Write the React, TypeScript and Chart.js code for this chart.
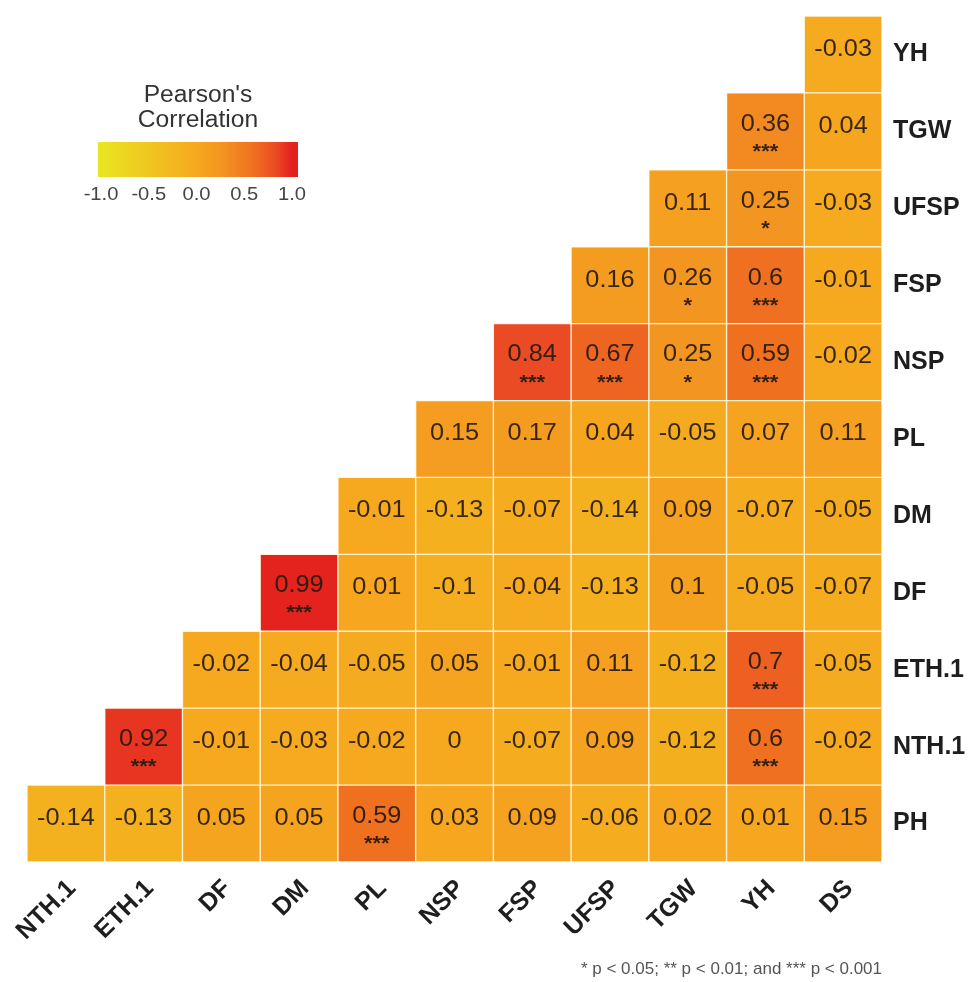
import React, { useEffect, useRef } from "react";
import { Chart, registerables } from "chart.js";

Chart.register(...registerables);

const columns = ["NTH.1", "ETH.1", "DF", "DM", "PL", "NSP", "FSP", "UFSP", "TGW", "YH", "DS"];
// rows from bottom (index 0) to top (index 10)
const rows = ["PH", "NTH.1", "ETH.1", "DF", "DM", "PL", "NSP", "FSP", "UFSP", "TGW", "YH"];

const valPH = [-0.14, -0.13, 0.05, 0.05, 0.59, 0.03, 0.09, -0.06, 0.02, 0.01, 0.15];
const valNTH = [null, 0.92, -0.01, -0.03, -0.02, 0, -0.07, 0.09, -0.12, 0.6, -0.02];
const valETH = [null, null, -0.02, -0.04, -0.05, 0.05, -0.01, 0.11, -0.12, 0.7, -0.05];
const valDF = [null, null, null, 0.99, 0.01, -0.1, -0.04, -0.13, 0.1, -0.05, -0.07];
const valDM = [null, null, null, null, -0.01, -0.13, -0.07, -0.14, 0.09, -0.07, -0.05];
const valPL = [null, null, null, null, null, 0.15, 0.17, 0.04, -0.05, 0.07, 0.11];
const valNSP = [null, null, null, null, null, null, 0.84, 0.67, 0.25, 0.59, -0.02];
const valFSP = [null, null, null, null, null, null, null, 0.16, 0.26, 0.6, -0.01];
const valUFSP = [null, null, null, null, null, null, null, null, 0.11, 0.25, -0.03];
const valTGW = [null, null, null, null, null, null, null, null, null, 0.36, 0.04];
const valYH = [null, null, null, null, null, null, null, null, null, null, -0.03];

const sigPH = ["", "", "", "", "***", "", "", "", "", "", ""];
const sigNTH = ["", "***", "", "", "", "", "", "", "", "***", ""];
const sigETH = ["", "", "", "", "", "", "", "", "", "***", ""];
const sigDF = ["", "", "", "***", "", "", "", "", "", "", ""];
const sigDM = ["", "", "", "", "", "", "", "", "", "", ""];
const sigPL = ["", "", "", "", "", "", "", "", "", "", ""];
const sigNSP = ["", "", "", "", "", "", "***", "***", "*", "***", ""];
const sigFSP = ["", "", "", "", "", "", "", "", "*", "***", ""];
const sigUFSP = ["", "", "", "", "", "", "", "", "", "*", ""];
const sigTGW = ["", "", "", "", "", "", "", "", "", "***", ""];
const sigYH = ["", "", "", "", "", "", "", "", "", "", ""];

const values = [valPH, valNTH, valETH, valDF, valDM, valPL, valNSP, valFSP, valUFSP, valTGW, valYH];
const sigs = [sigPH, sigNTH, sigETH, sigDF, sigDM, sigPL, sigNSP, sigFSP, sigUFSP, sigTGW, sigYH];

const legendTicks = [-1.0, -0.5, 0.0, 0.5, 1.0];

const colorStops: [number, number[]][] = [
  [-1, [233, 229, 32]],
  [0, [246, 168, 31]],
  [0.25, [243, 150, 33]],
  [0.6, [239, 112, 32]],
  [0.84, [234, 74, 36]],
  [1, [228, 32, 30]],
];

function colorFor(v: number): string {
  const x = Math.max(-1, Math.min(1, v));
  for (let i = 0; i < colorStops.length - 1; i++) {
    const [a, ca] = colorStops[i];
    const [b, cb] = colorStops[i + 1];
    if (x >= a && x <= b) {
      const t = (x - a) / (b - a);
      const c = ca.map((q, k) => Math.round(q + (cb[k] - q) * t));
      return `rgb(${c[0]},${c[1]},${c[2]})`;
    }
  }
  return "rgb(246,168,31)";
}

const FONT = "'Liberation Sans', Arial, sans-serif";

function stretchText(ctx: any, text: string, x: number, y: number, sx: number) {
  ctx.save();
  ctx.translate(x, y);
  ctx.scale(sx, 1);
  ctx.fillText(text, 0, 0);
  ctx.restore();
}

const overlayPlugin = {
  id: "overlay",
  afterDatasetsDraw(chart: any) {
    const ctx = chart.ctx;
    ctx.save();
    ctx.textAlign = "center";
    ctx.textBaseline = "middle";
    values.forEach((rowVals, i) => {
      const meta = chart.getDatasetMeta(i);
      rowVals.forEach((v, j) => {
        if (v === null) return;
        const el: any = meta.data[j];
        if (!el) return;
        const cx = el.x;
        const top = Math.min(el.y, el.base);
        const bot = Math.max(el.y, el.base);
        const cy = (top + bot) / 2;
        const s = sigs[i][j];
        ctx.fillStyle = "rgba(38,26,16,0.92)";
        ctx.font = `23px ${FONT}`;
        if (s) {
          stretchText(ctx, String(v), cx, cy - 7, 1.1);
          ctx.font = `bold 20px ${FONT}`;
          stretchText(ctx, s, cx, cy + 21, 1.1);
        } else {
          stretchText(ctx, String(v), cx, cy - 5, 1.1);
        }
      });
    });
    ctx.restore();
  },
  afterDraw(chart: any) {
    const ctx = chart.ctx;
    ctx.save();
    // colour bar legend
    const x0 = 101, x1 = 292, bx0 = 98, bx1 = 298, by0 = 142, by1 = 177;
    const grad = ctx.createLinearGradient(bx0, 0, bx1, 0);
    for (let k = 0; k <= 40; k++) {
      const px = bx0 + ((bx1 - bx0) * k) / 40;
      const v = -1 + ((px - x0) / (x1 - x0)) * 2;
      grad.addColorStop(k / 40, colorFor(v));
    }
    ctx.fillStyle = grad;
    ctx.fillRect(bx0, by0, bx1 - bx0, by1 - by0);
    ctx.fillStyle = "#333";
    ctx.textAlign = "center";
    ctx.textBaseline = "middle";
    ctx.font = `23px ${FONT}`;
    stretchText(ctx, "Pearson's", 198, 96, 1.07);
    stretchText(ctx, "Correlation", 198, 121, 1.07);
    ctx.font = `18px ${FONT}`;
    ctx.fillStyle = "#444";
    legendTicks.forEach((t) => {
      const px = x0 + ((t + 1) / 2) * (x1 - x0);
      stretchText(ctx, t.toFixed(1), px, 195, 1.12);
    });
    // footnote
    ctx.textAlign = "right";
    ctx.font = `17px ${FONT}`;
    ctx.fillStyle = "#555";
    ctx.fillText("* p < 0.05; ** p < 0.01; and *** p < 0.001", 882, 969);
    ctx.restore();
  },
};

export default function App() {
  const ref = useRef<HTMLCanvasElement>(null);
  useEffect(() => {
    if (!ref.current) return;
    const datasets = values.map((rowVals, i) => ({
      label: rows[i],
      data: rowVals.map((v) => (v === null ? null : [i, i + 1])),
      backgroundColor: rowVals.map((v) => (v === null ? "rgba(0,0,0,0)" : colorFor(v))),
      borderColor: "rgba(255,236,190,0.55)",
      borderWidth: 1,
      borderSkipped: false,
      grouped: false,
      barPercentage: 1,
      categoryPercentage: 1,
    }));
    const chart = new Chart(ref.current, {
      type: "bar",
      data: { labels: columns, datasets: datasets as any },
      options: {
        animation: false,
        responsive: false,
        maintainAspectRatio: false,
        layout: { padding: { left: 27, top: 16, right: 0, bottom: 0 } },
        plugins: { legend: { display: false }, tooltip: { enabled: false } },
        scales: {
          x: {
            type: "category",
            grid: { display: false, drawTicks: false },
            border: { display: false },
            ticks: {
              color: "#1e1e1e",
              font: { family: FONT, size: 25, weight: "bold" },
              maxRotation: 45,
              minRotation: 45,
              padding: 12,
              labelOffset: 6,
              autoSkip: false,
            },
            afterFit: (s: any) => {
              s.height = 120;
              s.paddingLeft = 0;
              s.paddingRight = 0;
            },
          },
          y: {
            type: "linear",
            position: "right",
            min: 0,
            max: 11,
            grid: { display: false, drawTicks: false },
            border: { display: false },
            afterBuildTicks: (s: any) => {
              s.ticks = rows.map((_, i) => ({ value: i + 0.5 }));
            },
            ticks: {
              autoSkip: false,
              color: "#1e1e1e",
              font: { family: FONT, size: 25, weight: "bold" },
              padding: 11,
              callback: (_v: any, idx: number) => rows[idx],
            },
            afterFit: (s: any) => {
              s.width = 93;
              s.paddingTop = 0;
              s.paddingBottom = 0;
            },
          },
        },
      },
      plugins: [overlayPlugin],
    });
    return () => chart.destroy();
  }, []);
  return (
    <div style={{ position: "fixed", left: 0, top: 0, width: 975, height: 982, background: "#fff" }}>
      <canvas ref={ref} width={975} height={982} style={{ width: 975, height: 982, display: "block" }} />
    </div>
  );
}
